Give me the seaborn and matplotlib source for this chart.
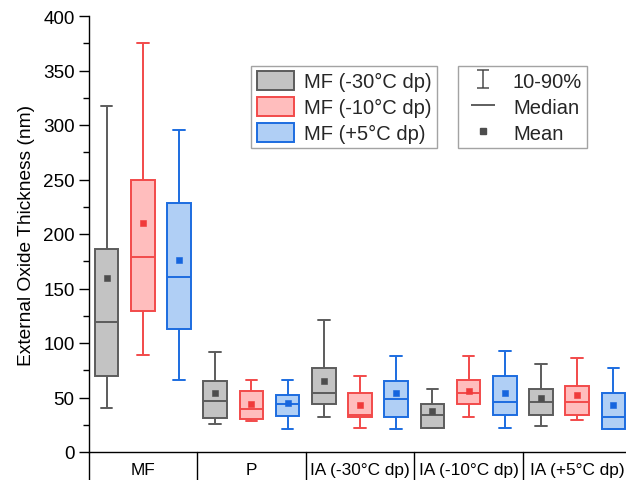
import numpy as np
import pandas as pd
import matplotlib
matplotlib.use("Agg")
import matplotlib.pyplot as plt
from matplotlib.patches import Patch
from matplotlib.lines import Line2D
from matplotlib.path import Path
from matplotlib.ticker import MultipleLocator
import seaborn as sns

# ---------------- data ----------------
groups = ["MF", "P", "IA (-30°C dp)", "IA (-10°C dp)", "IA (+5°C dp)"]
conditions = ["MF (-30°C dp)", "MF (-10°C dp)", "MF (+5°C dp)"]

# MF (-30°C dp)
p10_m30 = [40, 26, 32, 22, 24]
q1_m30 = [70, 31, 44, 22, 34]
med_m30 = [119, 47, 54, 34, 46]
q3_m30 = [186, 65, 77, 44, 58]
p90_m30 = [317, 92, 121, 58, 81]
mean_m30 = [160, 54, 65, 38, 50]

# MF (-10°C dp)
p10_m10 = [89, 28, 22, 32, 29]
q1_m10 = [129, 30, 32, 44, 34]
med_m10 = [179, 39, 34, 54, 46]
q3_m10 = [250, 56, 54, 66, 61]
p90_m10 = [375, 66, 70, 88, 86]
mean_m10 = [210, 44, 43, 56, 52]

# MF (+5°C dp)
p10_p5 = [66, 21, 21, 22, 21]
q1_p5 = [113, 33, 32, 34, 21]
med_p5 = [161, 44, 49, 46, 32]
q3_p5 = [228, 52, 65, 70, 54]
p90_p5 = [295, 66, 88, 93, 77]
mean_p5 = [176, 45, 54, 54, 43]

fill_colors = ["#c3c3c3", "#ffbdbd", "#b0cff5"]
edge_colors = ["#5c5c5c", "#f24a4a", "#1c6ce0"]
mean_colors = ["#4d4d4d", "#f03a3a", "#1565de"]

# ---------------- tables for seaborn ----------------
stats = {
    conditions[0]: [p10_m30, q1_m30, med_m30, q3_m30, p90_m30, mean_m30],
    conditions[1]: [p10_m10, q1_m10, med_m10, q3_m10, p90_m10, mean_m10],
    conditions[2]: [p10_p5, q1_p5, med_p5, q3_p5, p90_p5, mean_p5],
}
rows, mrows = [], []
for cond, st in stats.items():
    for i, g in enumerate(groups):
        # five summary values: with whis=(0, 100) the box spans q1-q3 and
        # whiskers reach the 10th / 90th percentile values
        for arr in st[:5]:
            rows.append({"group": g, "cond": cond, "value": arr[i]})
        mrows.append({"group": g, "cond": cond, "mean": st[5][i]})
df = pd.DataFrame(rows)
means = pd.DataFrame(mrows)

# ---------------- style ----------------
sns.set_style("ticks")
plt.rcParams["font.family"] = ["Liberation Sans", "DejaVu Sans"]
plt.rcParams["axes.edgecolor"] = "black"
plt.rcParams["xtick.color"] = "black"
plt.rcParams["ytick.color"] = "black"
plt.rcParams["axes.labelcolor"] = "black"

W, H = 626, 481
fig = plt.figure(figsize=(W / 100, H / 100), dpi=100)
ax = fig.add_axes([88.5 / W, 28 / H, 543 / W, 436 / H])

pal_fill = dict(zip(conditions, fill_colors))
for cond, ec in zip(conditions, edge_colors):
    sns.boxplot(data=df[df["cond"] == cond], x="group", y="value", hue="cond",
                order=groups, hue_order=conditions, palette=pal_fill,
                linecolor=ec, linewidth=1.4, width=1.0, gap=0.35,
                whis=(0, 100), saturation=1, dodge=True, showfliers=False,
                legend=False, ax=ax)

sns.pointplot(data=means, x="group", y="mean", hue="cond", order=groups,
              hue_order=conditions, palette=dict(zip(conditions, mean_colors)),
              dodge=2 / 3, linestyle="none", markers="s", markersize=4.6,
              markeredgewidth=0.4, errorbar=None, legend=False, ax=ax, zorder=10)

# ---------------- axes ----------------
ax.set_xlim(-0.5, len(groups) - 0.5)
ax.set_ylim(0, 400)
ax.yaxis.set_major_locator(MultipleLocator(50))
ax.yaxis.set_minor_locator(MultipleLocator(25))
ax.tick_params(axis="y", which="major", length=7.5, width=1.0, labelsize=13.6, pad=2.5)
ax.tick_params(axis="y", which="minor", length=4, width=1.0)
ax.set_ylabel("External Oxide Thickness (nm)", fontsize=13.8, labelpad=6)
ax.set_xlabel("")
ax.set_xticks(range(len(groups)))
ax.set_xticklabels(groups)
ax.tick_params(axis="x", length=0, labelsize=12.4, pad=7.5)
sns.despine(ax=ax)
for s in ("left", "bottom"):
    ax.spines[s].set_linewidth(1.0)

# category table below the axis
xt = ax.get_xaxis_transform()
for k in range(len(groups) + 1):
    ax.plot([k - 0.5, k - 0.5], [0, -0.08], transform=xt, color="black",
            lw=1.0, clip_on=False)

# ---------------- legends ----------------
h1 = [Patch(facecolor=f, edgecolor=e, linewidth=1.4, label=c)
      for f, e, c in zip(fill_colors, edge_colors, conditions)]
leg1 = fig.legend(handles=h1, loc="upper left",
                  bbox_to_anchor=(251.5 / W, 1 - 66.5 / H), fontsize=14.5,
                  frameon=True, fancybox=False, edgecolor="#8c8c8c",
                  handlelength=1.85, handleheight=1.1, handletextpad=0.5,
                  labelspacing=0.28, borderpad=0.25, borderaxespad=0)
leg1.get_frame().set_linewidth(1.0)

ipath = Path([(-0.35, 0.5), (0.35, 0.5), (0, 0.5), (0, -0.5),
              (-0.35, -0.5), (0.35, -0.5)],
             [Path.MOVETO, Path.LINETO, Path.MOVETO, Path.LINETO,
              Path.MOVETO, Path.LINETO])
h2 = [Line2D([], [], linestyle="none", marker=ipath, markersize=12.3,
             markeredgecolor="#4d4d4d", markerfacecolor="none",
             markeredgewidth=1.1, label="10-90%"),
      Line2D([], [], linestyle="none", marker="_", markersize=17,
             markeredgecolor="#333333", markeredgewidth=1.1, label="Median"),
      Line2D([], [], linestyle="none", marker="s", markersize=4.6,
             color="#4d4d4d", label="Mean")]
leg2 = fig.legend(handles=h2, loc="upper left",
                  bbox_to_anchor=(457.5 / W, 1 - 66.5 / H), fontsize=14.5,
                  frameon=True, fancybox=False, edgecolor="#8c8c8c",
                  handlelength=2.0, handleheight=1.1, handletextpad=0.5,
                  labelspacing=0.28, borderpad=0.25, borderaxespad=0)
leg2.get_frame().set_linewidth(1.0)

fig.savefig("out.png", dpi=100)
